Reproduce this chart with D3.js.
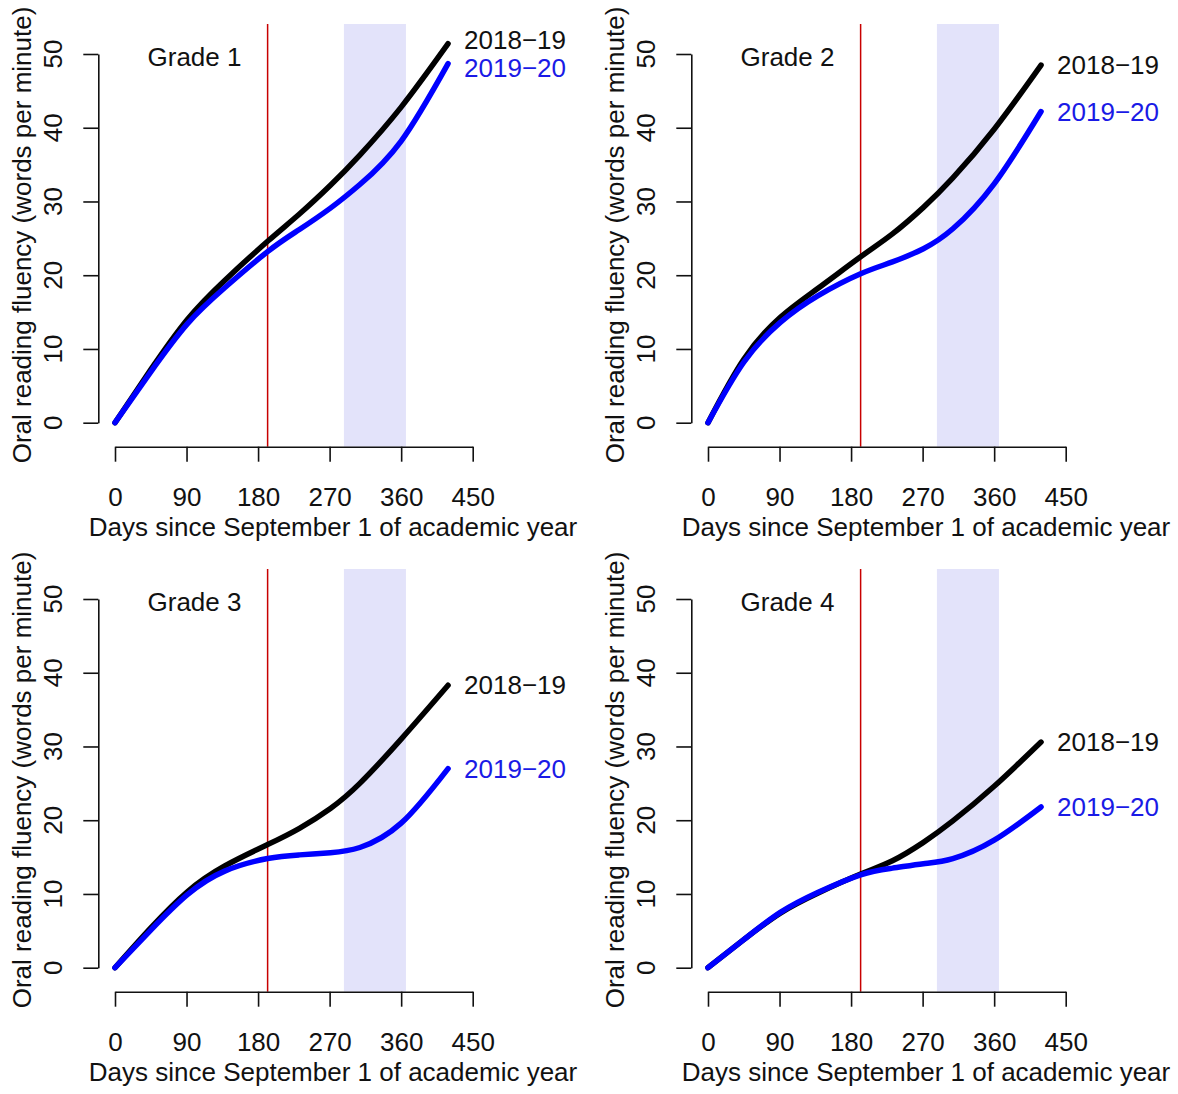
<!DOCTYPE html>
<html>
<head>
<meta charset="utf-8">
<script src="https://cdn.jsdelivr.net/npm/d3@7"></script>
<style>
  body { margin: 0; background: #fff; }
  svg text { font-family: "Liberation Sans", Arial, sans-serif; fill: #111; }
</style>
</head>
<body>
<div id="chart"></div>
<script>
// Donnees (jours depuis le 1er septembre, mots par minute)
const jours = [0, 45, 91, 138, 192, 232, 271, 308, 360, 419];
const grades = ["Grade 1", "Grade 2", "Grade 3", "Grade 4"];
const annees = ["2018\u221219", "2019\u221220"];
const couleurs = ["#000000", "#0000ff"];

const g1_2018 = [0, 7.2, 14.0, 19.3, 24.6, 28.3, 32.2, 36.3, 42.8, 51.4];
const g1_2019 = [0, 6.9, 13.4, 18.3, 23.2, 26.2, 29.1, 32.3, 38.2, 48.7];
const g2_2018 = [0, 8.6, 14.3, 18.2, 22.5, 25.6, 29.2, 33.2, 39.8, 48.5];
const g2_2019 = [0, 8.2, 13.6, 17.2, 20.2, 21.8, 23.6, 26.3, 32.4, 42.2];
const g3_2018 = [0, 5.4, 10.3, 13.8, 16.7, 18.9, 21.6, 25.0, 31.0, 38.3];
const g3_2019 = [0, 5.1, 9.9, 13.1, 14.8, 15.3, 15.6, 16.3, 19.6, 27.0];
const g4_2018 = [0, 3.8, 7.4, 10.1, 12.7, 14.5, 17.0, 19.9, 24.6, 30.6];
const g4_2019 = [0, 3.8, 7.5, 10.2, 12.6, 13.5, 14.1, 14.8, 17.3, 21.8];

const series = [[g1_2018, g1_2019], [g2_2018, g2_2019], [g3_2018, g3_2019], [g4_2018, g4_2019]];

const xTicks = [0, 90, 180, 270, 360, 450];
const yTicks = [0, 10, 20, 30, 40, 50];
const jourFermeture = 192;          // 11 mars
const ete = [288, 366];             // 15 juin - 1er septembre

const largeur = 1178, hauteur = 1094;
const svg = d3.select("#chart").append("svg")
    .attr("width", largeur)
    .attr("height", hauteur);

// Position des quatre panneaux
const decalages = [[0, 0], [593, 0], [0, 545], [593, 545]];
const zone = {left: 98.3, top: 24, bottom: 446.7};
const police = 26;

grades.forEach((grade, i) => {
  const g = svg.append("g")
      .attr("transform", "translate(" + decalages[i][0] + "," + decalages[i][1] + ")");

  const x = d3.scaleLinear().domain([0, 450]).range([115, 472.7]);
  const y = d3.scaleLinear().domain([0, 50]).range([422.7, 54]);

  // Bande d'ete
  g.append("rect")
      .attr("x", x(ete[0]))
      .attr("y", zone.top)
      .attr("width", x(ete[1]) - x(ete[0]))
      .attr("height", zone.bottom - zone.top)
      .attr("fill", "#e3e3fa");

  // Fermeture des ecoles
  g.append("line")
      .attr("x1", x(jourFermeture)).attr("x2", x(jourFermeture))
      .attr("y1", zone.top).attr("y2", zone.bottom)
      .attr("stroke", "#c80000")
      .attr("stroke-width", 1.5);

  // Axe X
  const axeX = g.append("g")
      .attr("transform", "translate(0," + zone.bottom + ")")
      .call(d3.axisBottom(x).tickValues(xTicks).tickSize(15).tickPadding(26).tickSizeOuter(0));
  axeX.select(".domain").attr("stroke", "#111").attr("stroke-width", 1.6);
  axeX.selectAll(".tick line").attr("stroke", "#111").attr("stroke-width", 1.6);
  axeX.selectAll(".tick text")
      .attr("font-size", police)
      .attr("font-family", "Liberation Sans, Arial, sans-serif")
      .attr("fill", "#111");

  // Axe Y
  const axeY = g.append("g")
      .attr("transform", "translate(" + zone.left + ",0)")
      .call(d3.axisLeft(y).tickValues(yTicks).tickSize(15).tickSizeOuter(0).tickFormat(""));
  axeY.select(".domain").attr("stroke", "#111").attr("stroke-width", 1.6);
  axeY.selectAll(".tick line").attr("stroke", "#111").attr("stroke-width", 1.6);

  // Etiquettes Y verticales (style R)
  g.selectAll(".ylab")
      .data(yTicks)
      .enter()
      .append("text")
      .attr("class", "ylab")
      .attr("transform", d => "translate(62," + y(d) + ") rotate(-90)")
      .attr("text-anchor", "middle")
      .attr("font-size", police)
      .text(d => d);

  // Titres des axes
  g.append("text")
      .attr("x", 333)
      .attr("y", 536)
      .attr("text-anchor", "middle")
      .attr("font-size", police)
      .text("Days since September 1 of academic year");

  g.append("text")
      .attr("transform", "translate(31," + 235 + ") rotate(-90)")
      .attr("text-anchor", "middle")
      .attr("font-size", police)
      .text("Oral reading fluency (words per minute)");

  // Nom du niveau
  g.append("text")
      .attr("x", x(100))
      .attr("y", y(50) + 12)
      .attr("text-anchor", "middle")
      .attr("font-size", police)
      .text(grade);

  // Courbes
  const ligne = d3.line()
      .x(d => x(d[0]))
      .y(d => y(d[1]))
      .curve(d3.curveNatural);

  series[i].forEach((valeurs, s) => {
    g.append("path")
        .datum(jours.map((j, k) => [j, valeurs[k]]))
        .attr("d", ligne)
        .attr("fill", "none")
        .attr("stroke", couleurs[s])
        .attr("stroke-width", 5.5)
        .attr("stroke-linecap", "round")
        .attr("stroke-linejoin", "round");
  });

  // Etiquettes des annees, ecartees si trop proches
  const dernier = jours.length - 1;
  let ys = series[i].map(v => y(v[dernier]));
  const ecartMin = 28;
  if (ys[1] - ys[0] < ecartMin) {
    const milieu = (ys[0] + ys[1]) / 2;
    ys = [milieu - ecartMin / 2, milieu + ecartMin / 2];
  }
  annees.forEach((annee, s) => {
    g.append("text")
        .attr("x", x(jours[dernier]) + 16)
        .attr("y", ys[s] + 9)
        .attr("font-size", police)
        .style("fill", couleurs[s] === "#000000" ? "#111" : "#1a1ae6")
        .text(annee);
  });
});
</script>
</body>
</html>
